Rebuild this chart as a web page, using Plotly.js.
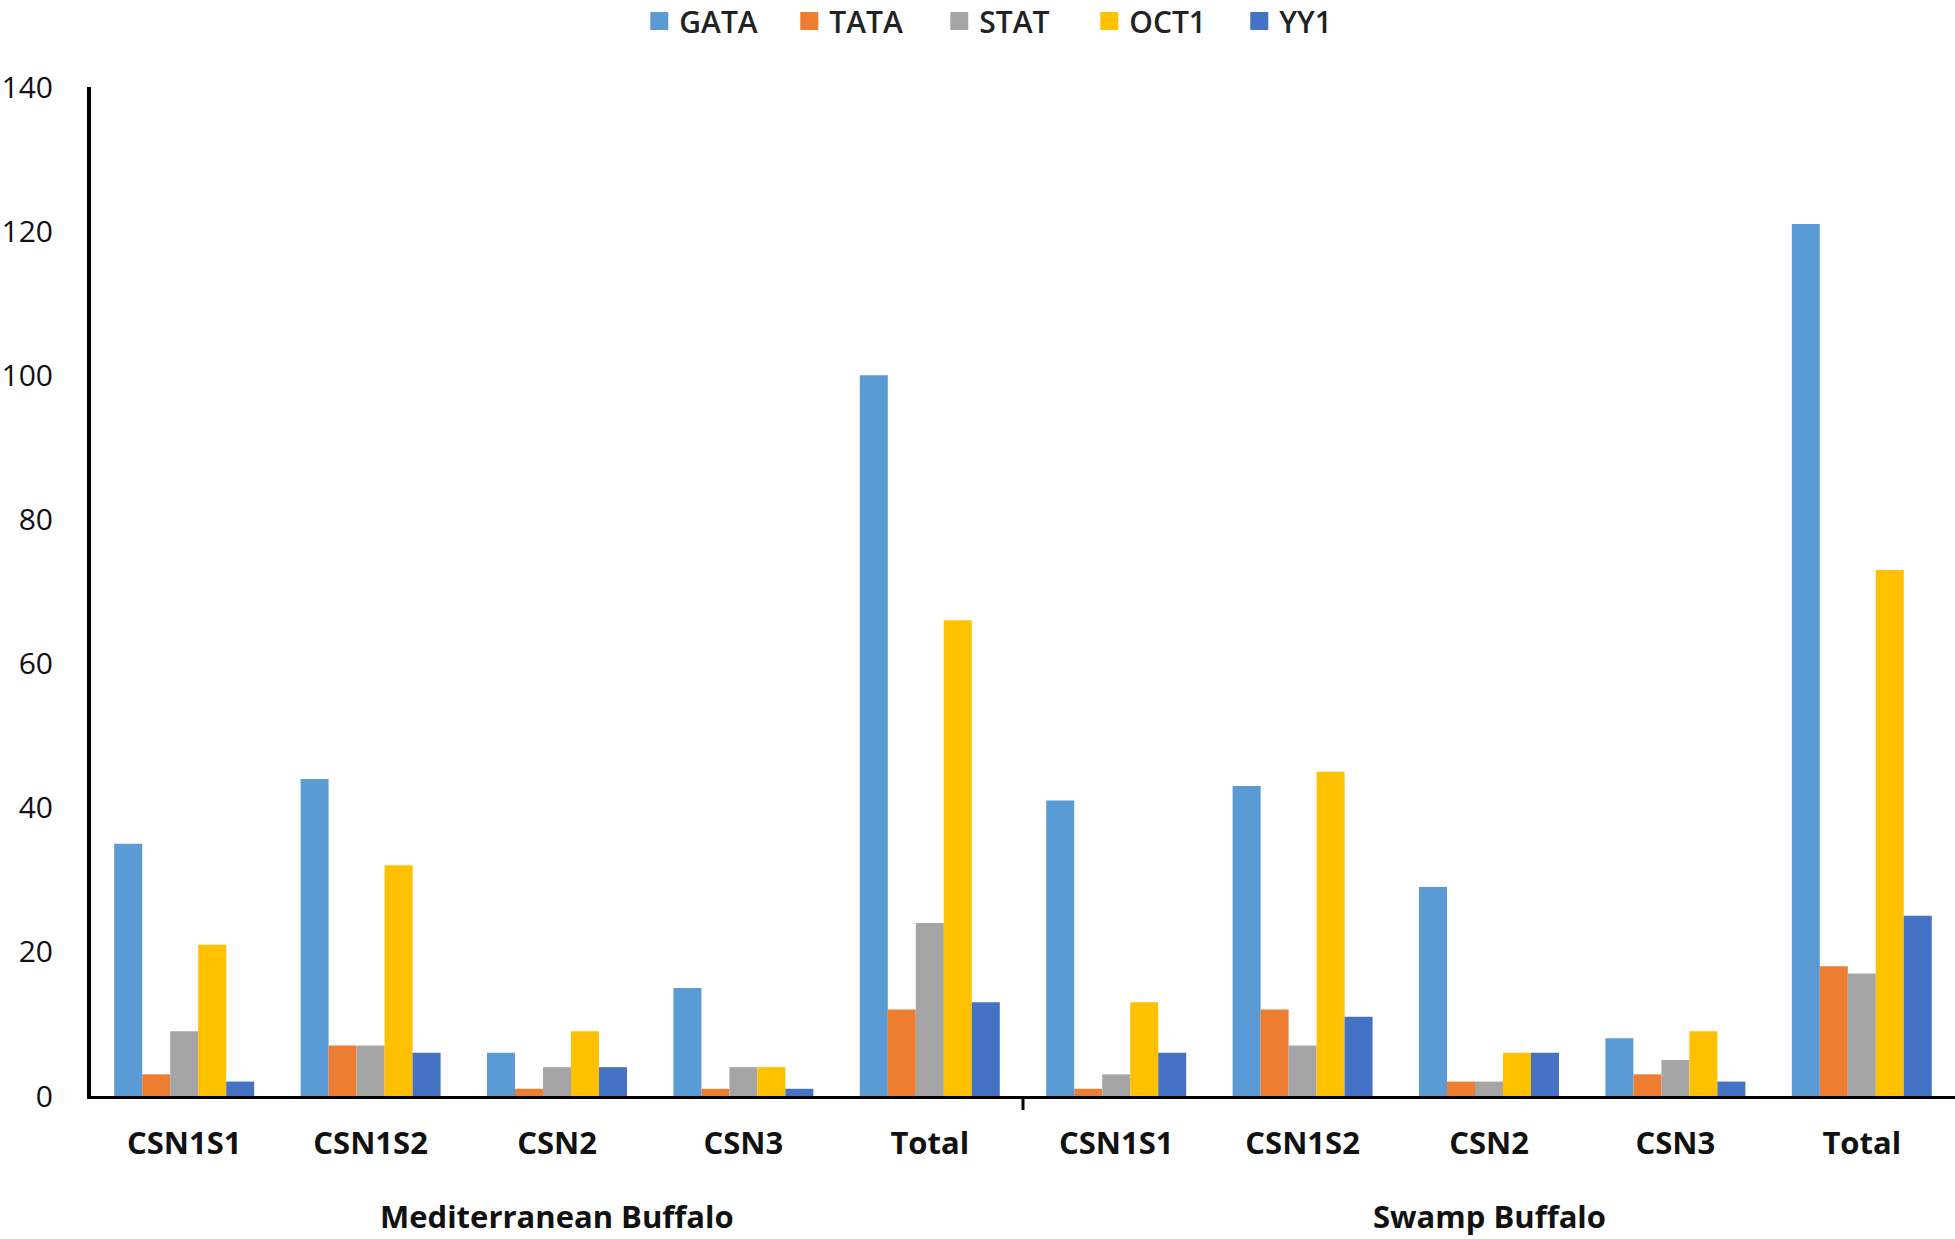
<!DOCTYPE html>
<html>
<head>
<meta charset="utf-8">
<script src="https://cdn.plot.ly/plotly-3.0.1.min.js"></script>
<style>
  html, body { margin: 0; padding: 0; background: #ffffff; }
  #chart { width: 1955px; height: 1239px; }
</style>
</head>
<body>
<div id="chart"></div>
<script>
// ---- data ----
const groups = ['Mediterranean Buffalo', 'Swamp Buffalo'];
const categories = ['CSN1S1', 'CSN1S2', 'CSN2', 'CSN3', 'Total'];
const seriesNames = ['GATA', 'TATA', 'STAT', 'OCT1', 'YY1'];
const seriesColors = ['#5B9BD5', '#ED7D31', '#A5A5A5', '#FFC000', '#4472C4'];

// values per series: Mediterranean (CSN1S1, CSN1S2, CSN2, CSN3, Total), then Swamp (same order)
const GATA = [35, 44, 6, 15, 100, 41, 43, 29, 8, 121];
const TATA = [3, 7, 1, 1, 12, 1, 12, 2, 3, 18];
const STAT = [9, 7, 4, 4, 24, 3, 7, 2, 5, 17];
const OCT1 = [21, 32, 9, 4, 66, 13, 45, 6, 9, 73];
const YY1  = [2, 6, 4, 1, 13, 6, 11, 6, 2, 25];
const seriesValues = [GATA, TATA, STAT, OCT1, YY1];

const yTicks = [0, 20, 40, 60, 80, 100, 120, 140];

// ---- build ----
const xPos = [];
const tickText = [];
groups.forEach((g, gi) => categories.forEach((c, ci) => {
  xPos.push(gi * categories.length + ci);
  tickText.push(c);
}));

const traces = [];
seriesNames.forEach((name, i) => {
  traces.push({
    type: 'bar',
    name: name,
    x: xPos,
    y: seriesValues[i],
    marker: { color: seriesColors[i], line: { width: 0 } },
    showlegend: false,
    hoverinfo: 'x+y+name'
  });
});
// legend proxies (nothing drawn in the plot) with larger square swatches
seriesNames.forEach((name, i) => {
  traces.push({
    type: 'scatter',
    mode: 'markers',
    name: name,
    x: [null],
    y: [null],
    marker: { symbol: 'square', size: 20, color: seriesColors[i], line: { width: 2, color: seriesColors[i] } },
    showlegend: true,
    hoverinfo: 'skip'
  });
});

const nCat = xPos.length;
const annotations = groups.map((g, gi) => ({
  text: '<b>' + g + '</b>',
  xref: 'x', yref: 'paper',
  x: gi * categories.length + (categories.length - 1) / 2,
  y: 0, yshift: -120,
  xanchor: 'center', yanchor: 'middle',
  showarrow: false,
  font: { family: 'Open Sans', size: 31, color: '#111111' }
}));

const shapes = groups.slice(1).map((g, gi) => ({
  type: 'line',
  xref: 'x', yref: 'paper',
  x0: (gi + 1) * categories.length - 0.5,
  x1: (gi + 1) * categories.length - 0.5,
  ysizemode: 'pixel', yanchor: 0,
  y0: 0, y1: -14,
  line: { color: '#000000', width: 3 }
}));

const layout = {
  width: 1955,
  height: 1239,
  margin: { l: 91, r: 0, t: 87, b: 143 },
  paper_bgcolor: '#ffffff',
  plot_bgcolor: '#ffffff',
  barmode: 'group',
  bargap: 0.249,
  bargroupgap: 0,
  showlegend: true,
  legend: {
    orientation: 'h',
    xref: 'container', yref: 'container',
    x: 0.327, xanchor: 'left',
    y: 0.983, yanchor: 'middle',
    font: { family: 'Open Sans', size: 30, color: '#222222', weight: 600 },
    traceorder: 'normal',
    itemwidth: 30,
    entrywidth: 105,
    entrywidthmode: 'pixels',
    bgcolor: 'rgba(0,0,0,0)'
  },
  xaxis: {
    type: 'linear',
    range: [-0.5, nCat - 0.5],
    tickmode: 'array',
    tickvals: xPos,
    ticktext: tickText,
    ticks: '',
    showgrid: false,
    zeroline: false,
    showline: true,
    linecolor: '#000000',
    linewidth: 3,
    ticklabelstandoff: 18,
    tickfont: { family: 'Open Sans', size: 31, color: '#111111', weight: 700 },
    fixedrange: true
  },
  yaxis: {
    range: [0, 140],
    tickmode: 'array',
    tickvals: yTicks,
    ticktext: yTicks.map(String),
    ticks: '',
    showgrid: false,
    zeroline: false,
    showline: true,
    linecolor: '#000000',
    linewidth: 4,
    ticklabelstandoff: 28,
    tickfont: { family: 'Open Sans', size: 30, color: '#111111' },
    fixedrange: true
  },
  annotations: annotations,
  shapes: shapes
};

Plotly.newPlot('chart', traces, layout, { displayModeBar: false, staticPlot: true });
</script>
</body>
</html>
